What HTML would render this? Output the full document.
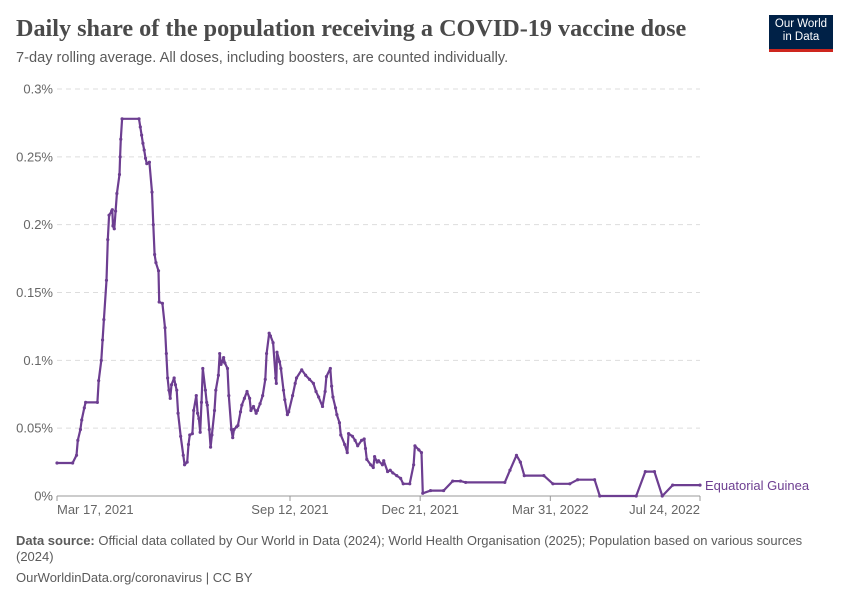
<!DOCTYPE html>
<html><head><meta charset="utf-8"><style>
body{margin:0;width:850px;height:600px;background:#fff;font-family:"Liberation Sans",sans-serif;overflow:hidden;position:relative}
.t{position:absolute;left:16px;top:15px;font-family:"Liberation Serif",serif;font-weight:bold;font-size:24.2px;color:#4a4a4a}
.s{position:absolute;left:16px;top:50px;font-size:14.6px;color:#5b5b5b}
.logo{position:absolute;left:769px;top:15px;width:64px;height:37px;background:#002147;border-bottom:3px solid #ce261e;color:#fff;font-size:11.5px;line-height:13px;text-align:center;padding-top:3px;box-sizing:border-box}
.f{position:absolute;left:16px;font-size:13px;color:#5b5b5b;width:800px;line-height:16px}
</style></head><body>
<div class="t">Daily share of the population receiving a COVID-19 vaccine dose</div>
<div class="s">7-day rolling average. All doses, including boosters, are counted individually.</div>
<div class="logo">Our World<br>in Data</div>
<svg id="c" width="850" height="600" style="position:absolute;left:0;top:0"></svg>
<div class="f" style="top:533px"><b>Data source:</b> Official data collated by Our World in Data (2024); World Health Organisation (2025); Population based on various sources (2024)</div>
<div class="f" style="top:570px">OurWorldinData.org/coronavirus | CC BY</div>
<script>
const yTicks=[0,0.05,0.1,0.15,0.2,0.25,0.3];
const yTickLabels=["0%","0.05%","0.1%","0.15%","0.2%","0.25%","0.3%"];
const xTickDays=[0,179,279,379,494];
const xTickLabels=["Mar 17, 2021","Sep 12, 2021","Dec 21, 2021","Mar 31, 2022","Jul 24, 2022"];
const seriesName="Equatorial Guinea";
const days=[0,12,15,16,18,19,21,22,31,32,34,35,36,38,39,40,42,42.5,43,44,45,46,48,48.5,49,50,63,64,65,66,67,68,69,71,73,74,75,76,78,78.5,81,83,84,85,86,87,88,90,91,92,93,95,97,98,100,101,102,104,105,107,108,109,110,111,112,114,115,115.5,117,118,119,121,122,124,125,126,127,128,129,131,132,134,135,136,138,139,141,142,144,146,148,149,151,153,154,156,158,160,161,163,164,166,168,168.5,169,171,172,174,175,177,178,181,183,184,188,191,194,197,199,201,204,206,207,210,211,212,214,215,217,218,221,223,224,227,229,231,234,236,237,238,241,243,244,246,247,250,251,254,256,258,261,264,266,271,274,275,278,280,281,287,297,304,310,314,344,348,353,356,359,374,381,394,400,413,417,445,452,459,465,473,494];
const values=[0.0243,0.0243,0.030,0.041,0.049,0.056,0.065,0.069,0.069,0.085,0.100,0.115,0.130,0.159,0.189,0.207,0.210,0.211,0.199,0.197,0.210,0.223,0.237,0.250,0.263,0.278,0.278,0.272,0.266,0.260,0.255,0.249,0.245,0.246,0.224,0.200,0.178,0.172,0.166,0.143,0.142,0.124,0.105,0.087,0.078,0.072,0.082,0.087,0.082,0.078,0.061,0.044,0.030,0.023,0.025,0.038,0.045,0.046,0.063,0.074,0.061,0.057,0.047,0.069,0.094,0.078,0.069,0.067,0.049,0.036,0.045,0.063,0.078,0.089,0.105,0.097,0.099,0.102,0.098,0.094,0.074,0.049,0.043,0.049,0.051,0.052,0.062,0.067,0.072,0.077,0.072,0.063,0.066,0.061,0.063,0.068,0.074,0.086,0.105,0.120,0.118,0.113,0.087,0.083,0.106,0.099,0.094,0.078,0.071,0.060,0.062,0.074,0.083,0.087,0.093,0.089,0.086,0.083,0.077,0.073,0.066,0.077,0.088,0.094,0.081,0.073,0.065,0.060,0.054,0.045,0.038,0.032,0.046,0.044,0.041,0.037,0.041,0.042,0.035,0.027,0.023,0.021,0.029,0.025,0.026,0.023,0.026,0.018,0.019,0.017,0.015,0.013,0.009,0.009,0.023,0.037,0.034,0.032,0.002,0.004,0.004,0.011,0.011,0.010,0.010,0.019,0.030,0.025,0.015,0.015,0.009,0.009,0.012,0.012,0,0,0.018,0.018,0,0.008,0.008];
const NS="http://www.w3.org/2000/svg",svg=document.getElementById('c');
const X0=57,X1=700,Y0=496,Y1=89;
const xs=d=>X0+d/494*(X1-X0), ys=v=>Y0-v/0.3*(Y0-Y1);
function mk(t,a,p){const e=document.createElementNS(NS,t);for(const k in a)e.setAttribute(k,a[k]);(p||svg).appendChild(e);return e;}
yTicks.forEach((v,i)=>{
 if(v>0){const g=mk('line',{x1:X0,x2:X1,y1:ys(v),y2:ys(v),stroke:'#ddd','stroke-dasharray':'5,4'});
 
 }
 const t=mk('text',{x:53,y:ys(v)+4.5,'text-anchor':'end','font-size':13,fill:'#666','font-family':'Liberation Sans'});
 t.textContent=yTickLabels[i];
 
 
});
const ax=mk('line',{x1:X0,x2:X1,y1:Y0,y2:Y0,stroke:'#999'});


xTickDays.forEach((d,i)=>{
 const tk=mk('line',{x1:xs(d),x2:xs(d),y1:Y0,y2:Y0+5,stroke:'#999'});
 
 
 const anc=i==0?'start':(i==xTickDays.length-1?'end':'middle');
 const t=mk('text',{x:xs(d),y:Y0+18,'text-anchor':anc,'font-size':13,fill:'#666','font-family':'Liberation Sans'});
 t.textContent=xTickLabels[i];
 
 
});
const pts=days.map((d,i)=>xs(d).toFixed(1)+','+ys(values[i]).toFixed(1)).join(' ');
const pl=mk('polyline',{points:pts,fill:'none',stroke:'#6d3e91','stroke-width':2.2,'stroke-linejoin':'round'});


days.forEach((d,i)=>{
 const c=mk('circle',{cx:xs(d),cy:ys(values[i]),r:1.6,fill:'#6d3e91'});
 
 
});
const lg=mk('text',{x:705,y:ys(values[values.length-1])+5,'font-size':13,fill:'#6d3e91','font-family':'Liberation Sans'});
lg.textContent=seriesName;


</script>
</body></html>
